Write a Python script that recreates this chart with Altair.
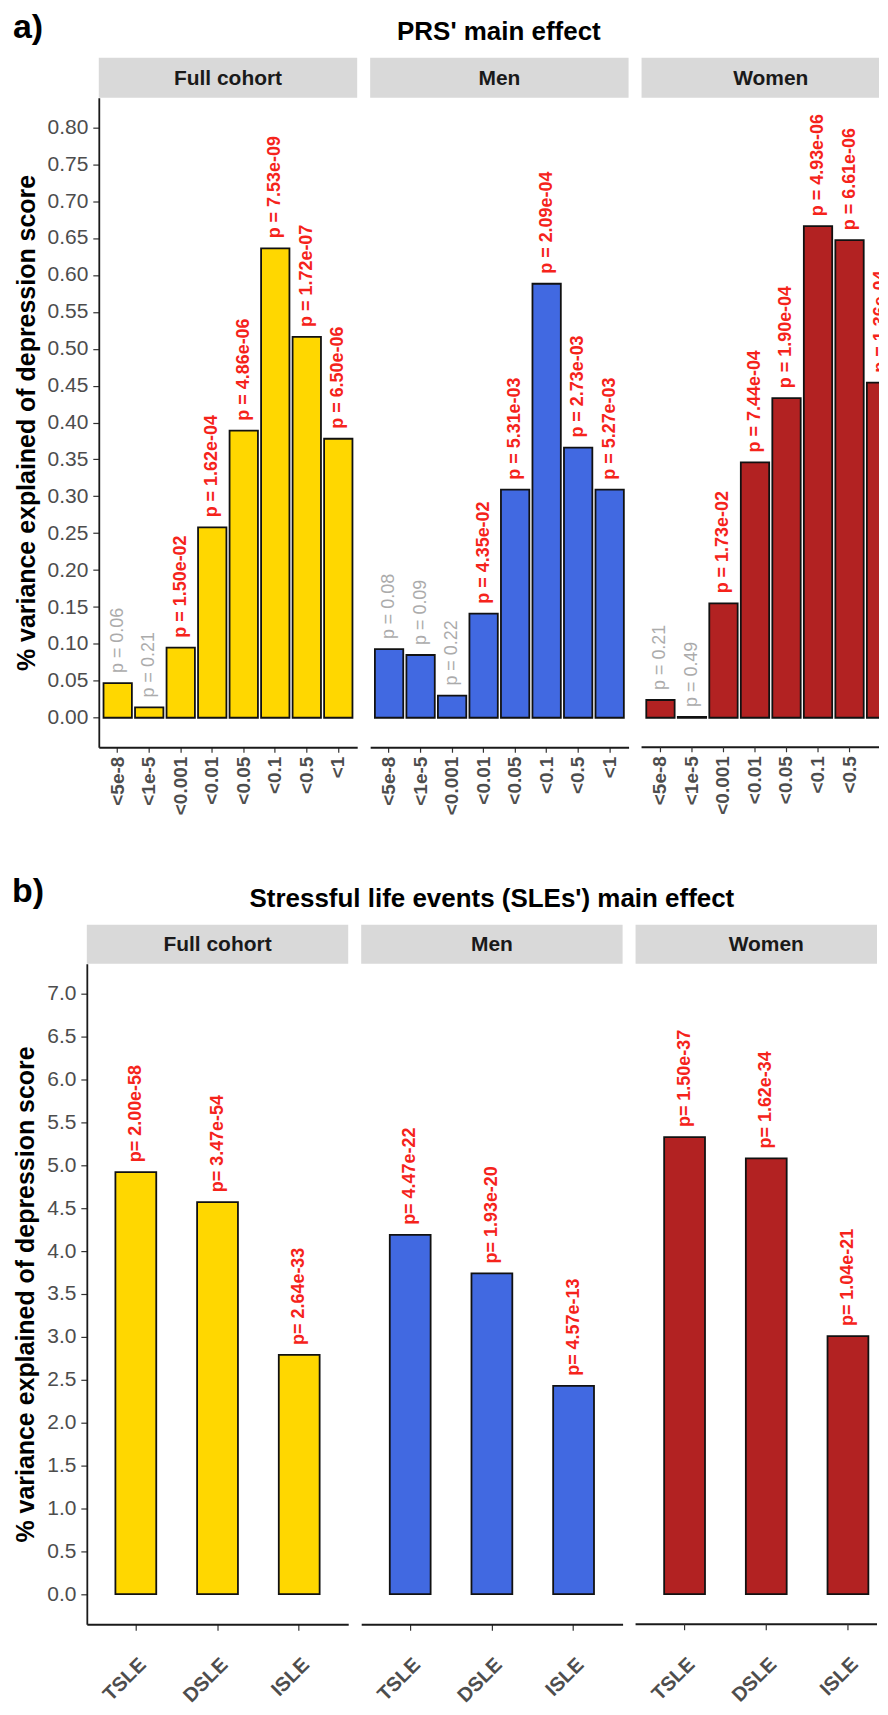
import altair as alt
import pandas as pd

FONT = "Liberation Sans"

# ---------------- data ----------------
groups = ["Full cohort", "Men", "Women"]
group_colors = ["#FFD700", "#4169E1", "#B22222"]

prs_thresholds = ["<5e-8", "<1e-5", "<0.001", "<0.01", "<0.05", "<0.1", "<0.5", "<1"]
prs_full = [0.047, 0.014, 0.095, 0.258, 0.389, 0.636, 0.516, 0.378]
prs_men = [0.093, 0.085, 0.030, 0.141, 0.309, 0.588, 0.366, 0.309]
prs_women = [0.024, 0.001, 0.155, 0.346, 0.433, 0.666, 0.647, 0.454]
prs_p_full = ["0.06", "0.21", "1.50e-02", "1.62e-04", "4.86e-06", "7.53e-09", "1.72e-07", "6.50e-06"]
prs_p_men = ["0.08", "0.09", "0.22", "4.35e-02", "5.31e-03", "2.09e-04", "2.73e-03", "5.27e-03"]
prs_p_women = ["0.21", "0.49", "1.73e-02", "7.44e-04", "1.90e-04", "4.93e-06", "6.61e-06", "1.36e-04"]
prs_y_ticks = [0.00, 0.05, 0.10, 0.15, 0.20, 0.25, 0.30, 0.35, 0.40,
               0.45, 0.50, 0.55, 0.60, 0.65, 0.70, 0.75, 0.80]

sle_types = ["TSLE", "DSLE", "ISLE"]
sle_full = [4.92, 4.57, 2.79]
sle_men = [4.19, 3.74, 2.43]
sle_women = [5.33, 5.08, 3.01]
sle_p_full = ["2.00e-58", "3.47e-54", "2.64e-33"]
sle_p_men = ["4.47e-22", "1.93e-20", "4.57e-13"]
sle_p_women = ["1.50e-37", "1.62e-34", "1.04e-21"]
sle_y_ticks = [0.0, 0.5, 1.0, 1.5, 2.0, 2.5, 3.0, 3.5, 4.0, 4.5, 5.0, 5.5, 6.0, 6.5, 7.0]

y_title = "% variance explained of depression score"

RED = "#F5231B"
GRAY_LAB = "#ABABAB"
AXIS_TXT = "#4D4D4D"
LINE = "#1A1A1A"
TICK = "#333333"


def make_panel(cats, vals, pvals, prefix, name, color, full_w, view_w, height,
               strip_h, ydomain, yticks, yfmt, show_y, pad_inner, pad_outer,
               xax, tick_cats, label_cats, label_size, extras):
    df = pd.DataFrame({
        "cat": cats,
        "val": vals,
        "label": [prefix + p for p in pvals],
        "p": [float(p) for p in pvals],
    })
    cropped = view_w < full_w
    if cropped:
        xaxis = None
    else:
        xaxis = alt.Axis(labelAngle=xax["angle"], labelAlign="right",
                         labelBaseline=xax["baseline"], labelFont=FONT,
                         labelFontSize=xax["size"], labelFontWeight="bold",
                         labelColor=AXIS_TXT, labelPadding=xax["pad"],
                         labelOverlap=False, tickSize=xax["tick"], tickColor=TICK,
                         tickWidth=1.2, domainColor=LINE, domainWidth=1.8)
    xenc = alt.X("cat:N", sort=cats, title=None,
                 scale=alt.Scale(range=[0, full_w], paddingInner=pad_inner,
                                 paddingOuter=pad_outer),
                 axis=xaxis)
    if show_y:
        yaxis = alt.Axis(values=yticks, format=yfmt, title=y_title, grid=False,
                         titleFont=FONT, titleFontSize=25, titleFontWeight="bold",
                         titleColor="#000000", titlePadding=8,
                         labelFont=FONT, labelFontSize=21, labelColor=AXIS_TXT,
                         labelPadding=5, tickSize=6, tickColor=TICK, tickWidth=1.2,
                         domainColor=LINE, domainWidth=1.8)
    else:
        yaxis = None
    yenc = alt.Y("val:Q", scale=alt.Scale(domain=ydomain, nice=False, zero=False),
                 axis=yaxis)

    strip_df = pd.DataFrame({"name": [name]})
    strip_rect = alt.Chart(strip_df).mark_rect(fill="#D9D9D9").encode(
        x=alt.value(0), x2=alt.value(view_w), y=alt.value(-strip_h), y2=alt.value(0))
    strip_text = alt.Chart(strip_df).mark_text(
        font=FONT, fontSize=21, fontWeight="bold", color="#1A1A1A",
        align="center", baseline="middle").encode(
        x=alt.value(full_w / 2), y=alt.value(-strip_h / 2 + 1), text="name:N")

    bars = alt.Chart(df).mark_bar(fill=color, stroke="#111111", strokeWidth=1.8,
                                  clip=True).encode(
        x=xenc, y=yenc, y2=alt.Y2(datum=0))

    layers = [strip_rect, strip_text, bars]
    sig = df[df["p"] < 0.05]
    ns = df[df["p"] >= 0.05]
    if len(sig):
        layers.append(alt.Chart(sig).mark_text(
            angle=270, align="left", baseline="middle", dx=10, font=FONT,
            fontSize=label_size, fontWeight="bold", color=RED, clip=True).encode(
            x=xenc, y=yenc, text="label:N"))
    if len(ns):
        layers.append(alt.Chart(ns).mark_text(
            angle=270, align="left", baseline="middle", dx=10, font=FONT,
            fontSize=label_size, fontWeight="normal", color=GRAY_LAB, clip=True).encode(
            x=xenc, y=yenc, text="label:N"))
    if cropped:
        # the figure's right edge cuts this panel: draw its x axis by hand so that
        # nothing reaches past the visible part
        tdf = pd.DataFrame({"cat": tick_cats})
        ldf = pd.DataFrame({"cat": label_cats})
        layers.append(alt.Chart(strip_df).mark_rule(color=LINE, strokeWidth=1.8).encode(
            x=alt.value(0), x2=alt.value(view_w), y=alt.value(height)))
        layers.append(alt.Chart(tdf).mark_rule(color=TICK, strokeWidth=1.2).encode(
            x=xenc, y=alt.value(height), y2=alt.value(height + xax["tick"])))
        layers.append(alt.Chart(ldf).mark_text(
            angle=xax["angle"], align="right", baseline=xax["baseline"], font=FONT,
            fontSize=xax["size"], fontWeight="bold", color=AXIS_TXT).encode(
            x=xenc, y=alt.value(height + xax["tick"] + xax["pad"]), text="cat:N"))
    layers.extend(extras)
    return alt.layer(*layers).properties(width=view_w, height=height)


def deco_text(txt, x, y, size, align="left", baseline="alphabetic"):
    return alt.Chart(pd.DataFrame({"t": [txt]})).mark_text(
        font=FONT, fontSize=size, fontWeight="bold", color="#000000",
        align=align, baseline=baseline).encode(
        x=alt.value(x), y=alt.value(y), text="t:N")


# ---------------- panel a ----------------
WA, HA = 259, 651
WA_LAST = 238
xax_a = dict(angle=270, baseline="middle", size=19, pad=4, tick=5)
prs_vals = [prs_full, prs_men, prs_women]
prs_ps = [prs_p_full, prs_p_men, prs_p_women]
panels_a = []
for i, g in enumerate(groups):
    extras = []
    if i == 0:
        extras = [deco_text("a)", -86, -60, 34),
                  deco_text("PRS' main effect", 401, -58, 26, align="center")]
    last = i == len(groups) - 1
    panels_a.append(make_panel(prs_thresholds, prs_vals[i], prs_ps[i], "p = ", g,
                               group_colors[i], WA, WA_LAST if last else WA, HA, 40,
                               [-0.04, 0.84], prs_y_ticks, ".2f", i == 0, 0.1, 0.15,
                               xax_a, prs_thresholds[:7], prs_thresholds[:7], 18,
                               extras))

# ---------------- panel b ----------------
WB, HB = 262, 662
WB_LAST = 242
xax_b = dict(angle=315, baseline="top", size=20, pad=24, tick=6)
sle_vals = [sle_full, sle_men, sle_women]
sle_ps = [sle_p_full, sle_p_men, sle_p_women]
panels_b = []
for i, g in enumerate(groups):
    extras = []
    if i == 0:
        extras = [deco_text("b)", -75, -62, 34),
                  deco_text("Stressful life events (SLEs') main effect", 406, -57, 26,
                            align="center")]
    last = i == len(groups) - 1
    panels_b.append(make_panel(sle_types, sle_vals[i], sle_ps[i], "p= ", g,
                               group_colors[i], WB, WB_LAST if last else WB, HB, 39,
                               [-0.35, 7.35], sle_y_ticks, ".1f", i == 0, 0.5, 0.35,
                               xax_b, sle_types, sle_types, 18, extras))

spacer = alt.Chart(pd.DataFrame({"d": [0]})).mark_point(opacity=0).encode(
    x=alt.value(0), y=alt.value(0)).properties(width=1, height=HA)

row_a = alt.hconcat(spacer,
                    alt.hconcat(*panels_a, spacing=13, bounds="flush"),
                    spacing=11, bounds="flush")
row_b = alt.hconcat(*panels_b, spacing=13, bounds="flush")

# rows are nested concats (no own height under "flush"), so the spacing spans
# row a's plot height plus the gap down to row b's plot
chart = alt.vconcat(row_a, row_b, spacing=HA + 217, bounds="flush").properties(
    padding={"left": 4, "top": 1, "right": 0, "bottom": 0}
).configure(font=FONT).configure_view(strokeWidth=0)

chart.save("out.html", embed_options={"renderer": "svg", "actions": False})
